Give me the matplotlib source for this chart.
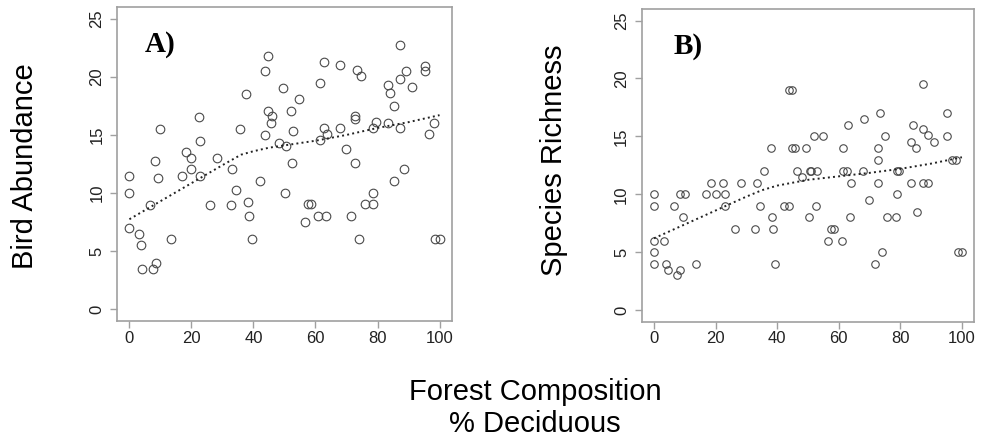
import matplotlib
matplotlib.use("Agg")
import matplotlib.pyplot as plt

plt.rcParams['font.family'] = ['Liberation Sans', 'DejaVu Sans']

# A) bird abundance vs % deciduous
abund_x = [44.7, 43.6, 49.5, 37.7, 54.6, 44.7, 46.1, 52.0, 45.6, 22.3, 9.8, 35.6, 43.6, 52.9,
           22.7, 48.1, 50.6, 18.4, 19.8, 28.2, 8.4, 52.5, 19.8, 33.2, 0, 9.3, 16.8, 22.7, 0,
           6.6, 26.1, 32.9, 34.3, 42.1, 38.1, 38.6, 50.3, 0, 3.2, 3.7, 13.3, 39.4, 4.2, 7.5,
           8.5, 87.3, 62.9, 68.0, 73.3, 74.8, 89.3, 95.4, 95.2, 61.4, 87.4, 83.5, 91.1, 84.1,
           85.2, 72.8, 72.8, 62.6, 63.8, 67.8, 61.4, 79.4, 78.7, 83.5, 87.3, 98.1, 96.6, 69.7,
           72.8, 88.7, 85.2, 78.7, 57.6, 58.7, 75.9, 78.5, 56.5, 60.9, 63.5, 71.6, 74.1, 98.4, 100]
abund_y = [21.8, 20.5, 19.0, 18.5, 18.1, 17.1, 16.6, 17.1, 16.0, 16.5, 15.5, 15.5, 15.0, 15.3,
           14.5, 14.3, 14.05, 13.5, 13.0, 13.0, 12.8, 12.56, 12.07, 12.07, 11.5, 11.3, 11.5, 11.5, 10.0,
           9.0, 9.0, 9.0, 10.27, 11.04, 9.26, 8.03, 10.0, 7.0, 6.5, 5.5, 6.05, 6.05, 3.5, 3.5,
           4.0, 22.7, 21.3, 21.05, 20.6, 20.1, 20.5, 20.96, 20.5, 19.5, 19.8, 19.3, 19.16, 18.6,
           17.5, 16.6, 16.4, 15.6, 15.06, 15.6, 14.57, 16.1, 15.6, 16.06, 15.6, 16.06, 15.06, 13.8,
           12.56, 12.05, 11.04, 10.03, 9.03, 9.03, 9.03, 9.03, 7.54, 8.03, 8.03, 8.03, 6.02, 6.02, 6.02]
abund_fit_x = [0, 10, 20, 30, 33, 36, 40, 45, 50, 55, 60, 70, 80, 90, 100]
abund_fit_y = [7.75, 9.3, 10.85, 12.4, 12.85, 13.3, 13.6, 13.9, 14.1, 14.3, 14.5, 15.0, 15.6, 16.1, 16.7]

# B) species richness vs % deciduous
rich_x = [44.0, 44.8, 38.0, 44.8, 45.7, 49.5, 35.8, 46.6, 48.2, 50.5, 18.4, 22.5, 28.4, 33.4,
          0, 8.4, 10.0, 16.8, 20.0, 22.9, 0, 6.6, 22.9, 34.5, 42.3, 43.9, 9.3, 38.2, 50.3,
          26.4, 32.9, 38.7, 0, 3.4, 0, 0, 3.9, 4.4, 8.6, 7.6, 13.5, 39.4, 87.4, 95.3, 73.4,
          68.1, 62.9, 84.2, 87.4, 89.0, 91.0, 95.3, 51.9, 55.0, 75.1, 61.4, 72.9, 83.5, 85.1,
          72.9, 96.9, 98.0, 50.9, 53.0, 61.4, 62.7, 67.9, 78.8, 79.6, 64.0, 72.9, 83.5, 87.2,
          88.9, 78.8, 69.7, 52.5, 85.3, 63.5, 75.8, 78.5, 57.5, 58.4, 56.6, 60.9, 74.2, 71.8,
          98.7, 100]
rich_y = [19, 19, 14, 14, 14, 14, 12, 12, 11.5, 12, 11, 11, 11, 11,
          10, 10, 10, 10, 10, 10, 9, 9, 9, 9, 9, 9, 8, 8, 8,
          7, 7, 7, 6, 6, 5, 4, 4, 3.5, 3.5, 3, 4, 4, 19.5, 17, 17,
          16.5, 16, 16, 15.6, 15.1, 14.5, 15, 15, 15, 15, 14, 14, 14.5, 14,
          13, 13, 13, 12, 12, 12, 12, 12, 12, 12, 11, 11, 11, 11,
          11, 10, 9.5, 9, 8.5, 8, 8, 8, 7, 7, 6, 6, 5, 4,
          5, 5]
rich_fit_x = [0, 10, 20, 30, 35, 40, 45, 50, 60, 70, 80, 90, 100]
rich_fit_y = [6.2, 7.4, 8.6, 9.8, 10.35, 10.75, 11.0, 11.25, 11.55, 11.85, 12.2, 12.65, 13.2]

fig = plt.figure(figsize=(9.84, 4.43), dpi=100)
axA = fig.add_axes([0.1189, 0.2754, 0.3404, 0.7088])
axB = fig.add_axes([0.6521, 0.2738, 0.3380, 0.7059])

panels = [
    (axA, abund_x, abund_y, abund_fit_x, abund_fit_y, 'A)', 0.084, 6.2),
    (axB, rich_x, rich_y, rich_fit_x, rich_fit_y, 'B)', 0.097, 5.4),
]

for ax, x, y, fx, fy, tag, tx, ms in panels:
    ax.plot(x, y, 'o', mfc='none', mec='#4a4a4a', mew=0.8, ms=ms)
    ax.plot(fx, fy, ':', color='#222222', lw=1.4)
    ax.set_xlim(-4, 104)
    ax.set_ylim(-1, 26)
    ax.set_xticks([0, 20, 40, 60, 80, 100])
    ax.set_yticks([0, 5, 10, 15, 20, 25])
    for s in ax.spines.values():
        s.set_color('#a0a0a0')
        s.set_linewidth(1.2)
    ax.tick_params(colors='#a0a0a0', labelcolor='#222222', labelsize=12, length=5, width=1)
    ax.tick_params(axis='x', pad=2)
    ax.tick_params(axis='y', pad=4)
    for lab in ax.get_yticklabels():
        lab.set_rotation(90)
        lab.set_va('center')
    ax.text(tx, 0.857, tag, transform=ax.transAxes, fontsize=21, fontweight='bold',
            family='Liberation Serif', ha='left', va='baseline')

fig.text(25 / 984, 1 - 166 / 443, 'Bird Abundance', rotation=90, fontsize=21,
         ha='center', va='center')
fig.text(554 / 984, 1 - 160 / 443, 'Species Richness', rotation=90, fontsize=21,
         ha='center', va='center')
# baseline of the last line sits at y=432 px
fig.text(535 / 984, 1 - 432 / 443, 'Forest Composition\n% Deciduous', fontsize=21,
         ha='center', va='baseline', linespacing=1.2, multialignment='center')

fig.savefig('out.png', dpi=100)
